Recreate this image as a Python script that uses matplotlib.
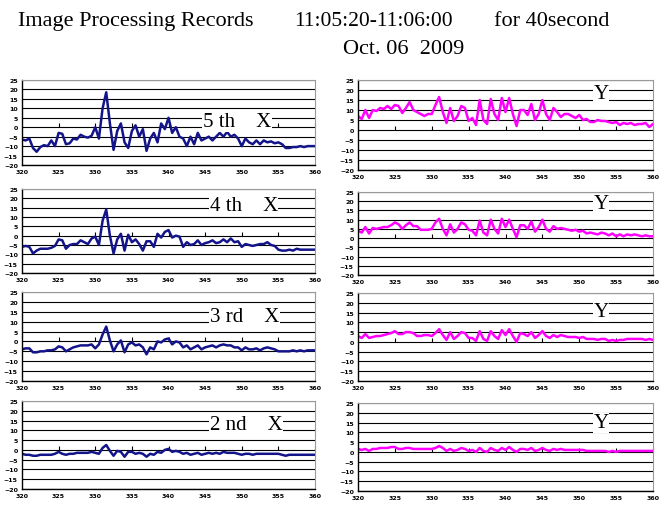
import numpy as np
import matplotlib
matplotlib.use('Agg')
import matplotlib.pyplot as plt

# sampling times (s), 0.5 s steps from 320 to 360
t = np.arange(320, 360.5, 0.5)

# X displacement for each floor
x5 = [-6.5, -7, -6, -11, -13, -10.5, -9.5, -10, -7, -10,
      -3, -3.5, -9, -8.5, -6, -6.5, -4, -5, -5.5, -4.5,
      0, -6, 10, 18.5, 2, -12, -2, 2, -8, -11,
      -2, 1, -5, -1, -12.5, -6, -3, -8, 2, -1,
      5, -3, 0, -5, -6, -10, -5, -9, -3, -7,
      -6, -5, -7, -5, -3, -5, -2.5, -5, -4, -6,
      -10, -6, -8, -9, -7, -9, -7, -8, -7.5, -8.5,
      -8, -9, -11, -11, -10.5, -10.5, -10, -10.5, -10, -10,
      -10]
x4 = [-6, -5.5, -6, -9.5, -8, -7, -7, -7, -6.5, -5.5,
      -2, -2.5, -7, -5, -4.5, -4.5, -2.5, -3.5, -4.5, -1.5,
      -0.5, -5, 8, 14, 0, -9.5, -2, 1, -8, 0.5,
      -3.5, -2, -4.5, -8, -3, -3, -6, 1, -1, 2,
      3, -1, 0, -0.5, -6, -3.5, -5, -4.5, -2.5, -5,
      -4, -3.5, -2.5, -4, -3.5, -2, -3.5, -1.5, -3.5, -3,
      -6, -4.5, -5, -5.5, -5, -4.5, -4.5, -3.5, -5, -5.5,
      -7.5, -8, -8, -7.5, -8, -7, -7.5, -7.5, -7.5, -7.5,
      -7.5]
x3 = [-4, -3.5, -3.5, -5.5, -5.5, -5, -5, -4.5, -4.5, -4,
      -2.5, -3, -5, -4, -3, -2.5, -2, -2, -2, -1.5,
      -3.5, -1.5, 3.5, 7.5, 0.5, -5, -1.5, 0.5, -5.5, -1.5,
      -0.5, -2, -1.5, -3, -6.5, -3, -4, 0, -0.5, 1,
      1.5, -1.5, 0, -0.5, -3, -2, -4, -3, -2, -4,
      -3, -2.5, -2, -3, -2, -1.5, -2, -2, -3, -3,
      -4.5, -3, -4, -4, -3.5, -4.5, -3.5, -3, -3.5, -4,
      -5, -5, -5, -5, -4.5, -5, -4.5, -5, -4.5, -4.5,
      -4.5]
x2 = [-2, -2.5, -2.5, -3, -3, -2.5, -2.5, -2.5, -2.5, -2,
      -1, -2, -2.5, -2, -2, -1.5, -1.5, -1.5, -1.5, -1,
      -1.5, -2, 1, 2.5, -0.5, -3, -0.5, -1, -3.5, -1,
      -1, -2, -1.5, -2, -3.5, -2, -2.5, -1, -1.5, 0,
      0.5, -1, -0.5, -1, -2, -1.5, -2.5, -2, -1.5, -2.5,
      -2, -1.5, -2, -1.5, -2, -1, -1.5, -1.5, -1.5, -2,
      -2.5, -2, -2, -2.5, -2, -2, -2, -2, -2, -2,
      -2, -2.5, -3, -2.5, -2.5, -2.5, -2.5, -2.5, -2.5, -2.5,
      -2.5]

# Y displacement for each floor
y5 = [7, 5.5, 10, 6, 10, 9.5, 11, 10.5, 12, 10.5,
      12.5, 12, 8.5, 11, 14, 10, 9, 8, 7, 8,
      8, 12.5, 16.5, 9, 3.5, 11, 4.5, 7, 12, 11,
      4.5, 6, 2.5, 15, 5, 3, 15.5, 8, 5, 16,
      9, 16, 8, 2, 10, 10, 7.5, 13, 5, 8,
      15, 8, 5, 11, 9, 6.5, 8, 8, 7, 6,
      7.5, 5, 5.5, 4, 4, 5, 4.5, 4.5, 4, 3.5,
      4, 2.5, 3.5, 3, 3.5, 2.5, 3, 3, 3.5, 1.5,
      3]
y4 = [4, 3, 6, 2.5, 5.5, 5, 5.5, 6, 6, 7,
      8.5, 7.5, 5, 7, 8.5, 6.5, 6.5, 4.5, 4.5, 4.5,
      5, 8.5, 10.5, 5, 1.5, 7.5, 3, 5, 8.5, 7.5,
      4.5, 4, 1.5, 9.5, 3, 1.5, 10, 5, 2.5, 10.5,
      6, 10, 5, 0.5, 7, 7, 5, 9, 3.5, 6,
      10, 5, 3.5, 6.5, 5, 5.5, 5, 4.5, 4, 4.5,
      3.5, 4, 2.5, 3, 2.5, 2, 3, 2.5, 1.5, 2.5,
      1, 2, 1, 2, 1.5, 2, 1.5, 1, 1.5, 1,
      1]
y3 = [3, 2, 4, 2, 2.5, 3, 3, 3.5, 4, 4.5,
      5.5, 4, 4, 5, 5, 4.5, 3, 3, 3.5, 3.5,
      3, 4.5, 6.5, 3.5, 1, 5, 1.5, 3, 5, 4.5,
      2, 2, 0.5, 5.5, 1.5, 0.5, 5.5, 3, 1.5, 6,
      3.5, 6.5, 3, 0, 4.5, 4, 3, 5, 2, 3.5,
      5.5, 3, 2, 3.5, 2.5, 3.5, 3, 2.5, 2.5, 2.5,
      2, 2.5, 1.5, 1.5, 1.5, 1, 1.5, 1.5, 0.5, 1,
      0.5, 1, 1, 1.5, 1.5, 1.5, 1.5, 1.5, 1, 1.5,
      1]
y2 = [1.5, 1, 1.5, 0.5, 1.5, 1.5, 2, 2, 2, 2.5,
      2.5, 1.5, 1.5, 2, 2, 1.5, 1.5, 1.5, 1.5, 1.5,
      1.5, 2, 3, 2, 0.5, 1.5, 0.5, 1, 2, 1.5,
      0.5, 1, 0, 2, 0.5, 0, 2, 1, 0.5, 2,
      1, 2.5, 1, 0, 1.5, 1.5, 1, 2, 0.5, 1,
      2, 1, 0.5, 1.5, 1, 1.5, 1, 1, 1, 1,
      1, 1, 0.5, 0.5, 0.5, 0.5, 0.5, 0.5, 0, 0.5,
      0, 0.5, 0.5, 0.5, 0.5, 0.5, 0.5, 0.5, 0.5, 0.5,
      0.5]

floors = ['5 th', '4 th', '3 rd', '2 nd']
xdata = [x5, x4, x3, x2]
ydata = [y5, y4, y3, y2]
# where the in-plot labels sit (data units)
xlab_pos = [(344.7, 0.5), (345.6, 13.5), (345.6, 10.5), (345.6, 10.8)]
ylab_pos = [(351.9, 16.2), (351.9, 16.2), (351.9, 13), (351.9, 12.5)]

W, H = 665, 510
# pixel boxes (top, bottom) for each row
left_rows = [(81, 166), (190, 274), (293, 382), (402, 490)]
right_rows = [(81, 171), (193, 276), (294, 382), (404, 492)]
LX0, LX1 = 22, 315
RX0, RX1 = 358, 653

fig = plt.figure(figsize=(W / 100, H / 100), dpi=100)
serif = 'Liberation Serif'


def make_axes(x0, x1, top, bot):
    ax = fig.add_axes([x0 / W, 1 - bot / H, (x1 - x0) / W, (bot - top) / H])
    ax.set_xlim(320, 360)
    ax.set_ylim(-20, 25)
    ax.set_xticks(np.arange(320, 361, 5))
    ax.set_yticks(np.arange(-20, 26, 5))
    ax.tick_params(axis='both', length=0, labelsize=4.5, pad=3)
    for lab in ax.get_xticklabels() + ax.get_yticklabels():
        lab.set_fontfamily('DejaVu Sans')
        lab.set_fontweight('bold')
    ax.grid(axis='y', color='black', linewidth=0.8)
    ax.set_axisbelow(True)
    for s in ['top', 'right']:
        ax.spines[s].set_color('#9a9a9a')
        ax.spines[s].set_linewidth(0.8)
    for s in ['left', 'bottom']:
        ax.spines[s].set_color('black')
        ax.spines[s].set_linewidth(1.0)
    # category axis crosses at zero, with its tick marks
    sec = ax.secondary_xaxis(20 / 45)
    sec.set_xticks(np.arange(325, 361, 5))
    sec.tick_params(direction='in', length=3, width=0.8, labelbottom=False,
                    color='black')
    sec.spines['bottom'].set_visible(False)
    return ax


for i in range(4):
    axl = make_axes(LX0, LX1, *left_rows[i])
    axl.plot(t, xdata[i], color='#14148a', linewidth=1.8, zorder=2,
             solid_joinstyle='round')
    axl.text(*xlab_pos[i], floors[i] + '    X', fontsize=15,
             family=serif, va='baseline', ha='left', zorder=5,
             bbox=dict(facecolor='white', edgecolor='none', pad=0.5))

    axr = make_axes(RX0, RX1, *right_rows[i])
    axr.plot(t, ydata[i], color='#ff00ff', linewidth=1.8, zorder=2,
             solid_joinstyle='round')
    axr.text(*ylab_pos[i], 'Y', fontsize=15, family=serif,
             va='baseline', ha='left', zorder=5,
             bbox=dict(facecolor='white', edgecolor='none', pad=0.5))

# heading
fig.text(18 / W, 1 - 26 / H, 'Image Processing Records', fontsize=16,
         family=serif, ha='left', va='baseline')
fig.text(294 / W, 1 - 26 / H, '11:05:20-11:06:00', fontsize=15.5,
         family=serif, ha='left', va='baseline')
fig.text(494 / W, 1 - 26 / H, 'for 40second', fontsize=16,
         family=serif, ha='left', va='baseline')
fig.text(343 / W, 1 - 54 / H, 'Oct. 06  2009', fontsize=16,
         family=serif, ha='left', va='baseline')

fig.savefig('out.png', dpi=100)
